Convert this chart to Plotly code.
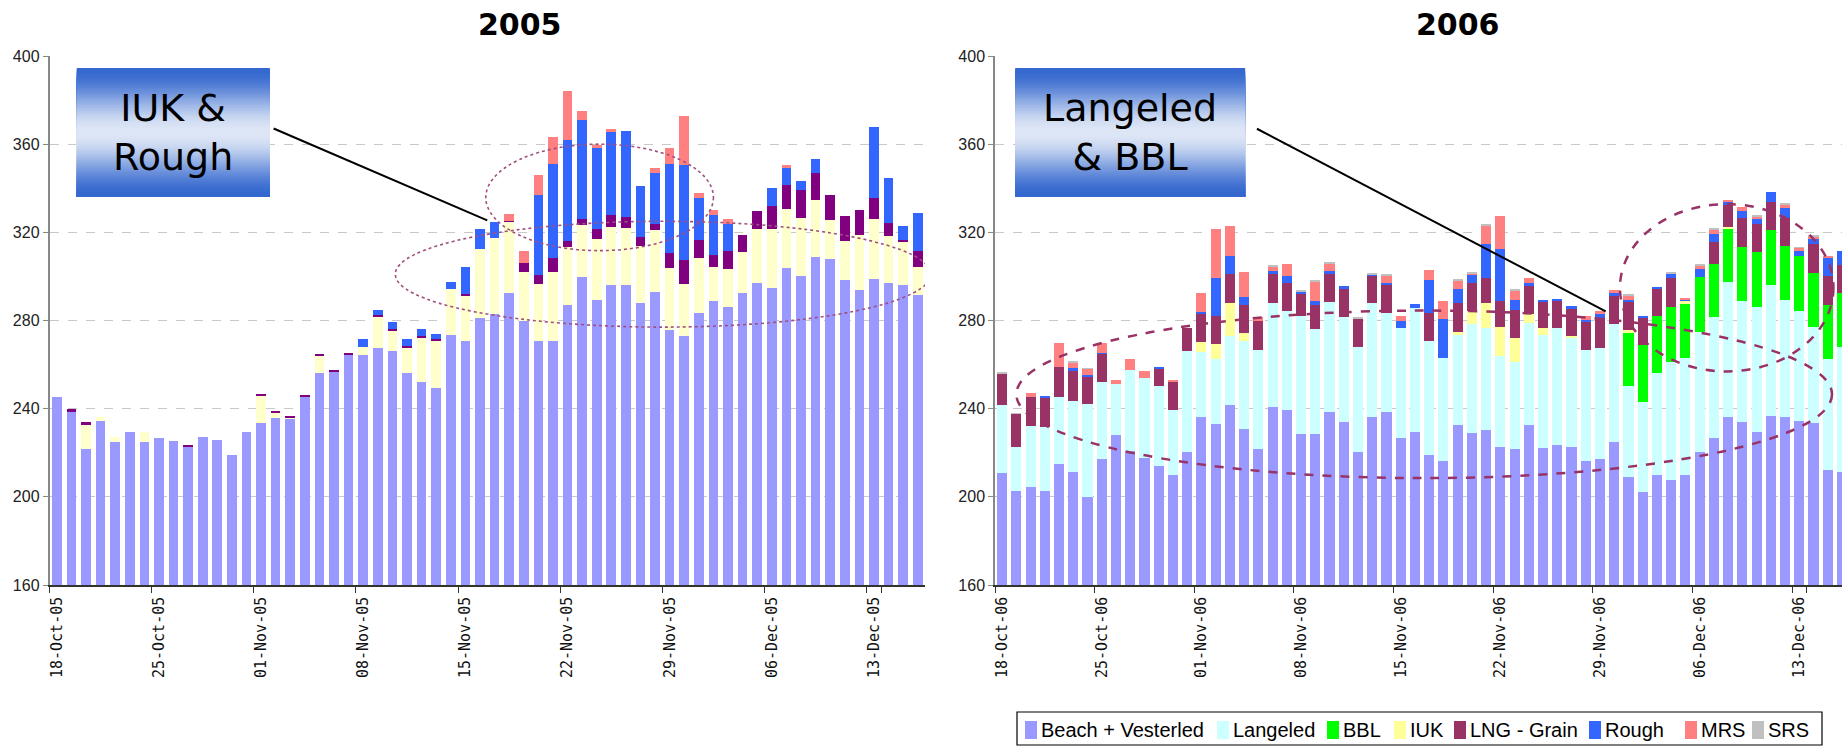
import plotly.graph_objects as go
import pandas as pd

# ---------------- categories ----------------
days05 = [d.strftime('%d-%b-%y') for d in pd.date_range('2005-10-18', periods=60, freq='D')]
days06 = [d.strftime('%d-%b-%y') for d in pd.date_range('2006-10-18', periods=60, freq='D')]

# ---------------- 2005 series (mcm/d) ----------------
beach05 = [245.5, 238.4, 221.5, 234.2, 225.1, 229.3, 225.1, 226.5, 225.4, 222.8,
           227.0, 225.6, 219.2, 229.6, 233.3, 235.6, 235.6, 245.5, 256.1, 256.9,
           264.2, 264.2, 267.4, 266.0, 256.1, 252.3, 249.2, 273.3, 270.5, 281.1,
           282.8, 292.4, 279.6, 270.5, 270.5, 286.9, 299.7, 289.2, 296.0, 296.0,
           287.9, 292.9, 275.5, 272.8, 283.3, 288.7, 286.1, 292.4, 297.0, 294.7,
           303.8, 300.0, 308.8, 307.8, 298.3, 293.7, 298.7, 297.0, 296.0, 291.4]
iuk05 = [0, 0, 11.4, 2.2, 1.9, 0, 4.5, 0, 0, 0,
         0, 0, 0, 0, 12.5, 2.8, 0.5, 0, 7.6, 0,
         0, 4.0, 14.3, 9.5, 11.3, 19.7, 21.8, 20.9, 20.9, 31.3,
         34.6, 32.3, 22.4, 26.0, 31.5, 26.4, 23.5, 27.7, 26.3, 25.9,
         25.8, 28.1, 28.3, 23.7, 25.0, 15.5, 17.2, 18.7, 24.5, 26.8,
         26.7, 26.5, 25.8, 17.7, 17.6, 25.0, 27.3, 21.3, 19.9, 12.8]
lng05 = [0, 1.3, 0.9, 0, 0, 0, 0, 0, 0, 0.5,
         0, 0, 0, 0, 0.5, 0.6, 0.5, 0.5, 1.0, 0.5,
         1.0, 0, 0.7, 0.5, 1.0, 1.0, 0.5, 0, 0.7, 0,
         0, 0.5, 4.0, 4.0, 6.3, 2.6, 2.8, 4.6, 5.5, 5.1,
         4.2, 2.7, 6.8, 10.8, 8.1, 5.4, 8.1, 7.6, 8.1, 10.3,
         10.9, 12.6, 12.3, 11.4, 11.4, 11.4, 9.6, 5.9, 0.5, 7.2]
rough05 = [0, 0, 0, 0, 0, 0, 0, 0, 0, 0,
           0, 0, 0, 0, 0, 0, 0, 0, 0, 0,
           0, 3.3, 2.2, 3.3, 3.1, 3.0, 2.3, 3.2, 12.2, 9.1,
           7.3, 0, 0, 36.4, 42.7, 46.0, 44.9, 36.6, 37.8, 38.9,
           23.0, 23.2, 40.4, 43.2, 19.2, 18.2, 12.3, 0, 0, 8.3,
           7.8, 4.1, 6.4, 0, 0, 0, 32.3, 20.5, 6.3, 17.4]
mrs05 = [0, 0, 0, 0, 0, 0, 0, 0, 0, 0,
         0, 0, 0, 0, 0, 0, 0, 0, 0, 0,
         0, 0, 0, 0, 0, 0, 0, 0, 0, 0,
         0, 3.1, 5.4, 9.1, 12.3, 22.2, 4.1, 1.7, 1.3, 0,
         0, 2.3, 7.3, 22.2, 2.2, 2.3, 2.3, 0, 0, 0,
         1.3, 0, 0, 0, 0, 0, 0, 0, 0, 0]

# ---------------- 2006 series (mcm/d) ----------------
beach06 = [210.6, 202.8, 204.6, 202.8, 214.7, 211.1, 199.8, 217.0, 227.9, 221.0,
           217.5, 214.2, 209.7, 220.5, 236.4, 232.9, 241.5, 230.6, 221.5, 240.6,
           239.2, 228.3, 228.3, 238.7, 233.8, 220.2, 236.4, 238.7, 226.5, 229.6,
           219.2, 216.4, 232.4, 228.8, 230.1, 222.8, 221.5, 232.4, 222.0, 223.3,
           222.5, 216.4, 217.0, 225.1, 208.9, 202.4, 209.7, 207.5, 209.7, 220.2,
           226.5, 236.4, 233.8, 229.6, 236.9, 236.1, 234.2, 233.3, 212.4, 211.1]
langeled06 = [30.9, 20.0, 27.7, 29.1, 30.8, 32.6, 42.1, 35.0, 23.1, 36.4,
              36.3, 35.9, 29.5, 45.5, 29.2, 29.7, 31.4, 39.9, 45.0, 47.3,
              44.9, 53.6, 47.7, 49.7, 47.7, 47.7, 51.5, 44.6, 50.0, 56.0,
              51.3, 46.6, 40.9, 49.5, 46.4, 41.1, 39.6, 46.4, 51.3, 53.2,
              49.5, 50.1, 50.4, 53.2, 41.2, 40.8, 46.4, 53.6, 53.2, 54.5,
              55.0, 61.0, 54.9, 56.5, 59.1, 53.1, 49.9, 43.7, 50.0, 56.8]
bbl06 = [0] * 44 + [24.6, 25.5, 25.8, 25.0, 25.0, 25.0,
                    24.1, 24.5, 24.6, 25.0, 25.0, 24.5, 25.0, 24.5, 24.5, 24.5]
iuk06 = [0, 0, 0, 0, 0, 0, 0, 0, 0, 0,
         0, 0, 0, 0, 4.6, 6.6, 15.0, 3.8, 0, 0,
         0, 0, 0, 0, 0, 0, 0, 0, 0, 0,
         0, 0, 1.4, 5.8, 11.4, 13.1, 10.9, 4.0, 3.2, 0,
         1.0, 0, 0, 0, 0.8, 0, 0, 0, 0.8, 0,
         0, 0.5, 0, 0, 0, 0, 0, 0, 0, 0]
lng06 = [14.6, 14.8, 13.2, 13.0, 13.3, 13.3, 12.8, 12.8, 0, 0,
         0, 8.2, 13.3, 10.5, 13.0, 12.7, 13.1, 12.6, 13.1, 13.3,
         12.9, 10.1, 10.9, 13.1, 13.2, 13.2, 12.6, 12.7, 0, 0,
         12.8, 0, 13.2, 12.9, 11.3, 11.7, 12.6, 12.9, 12.2, 12.2,
         12.6, 13.1, 13.7, 12.7, 13.2, 12.8, 12.8, 13.1, 0, 0,
         10.0, 9.9, 13.2, 12.6, 12.8, 12.8, 0, 13.1, 13.1, 12.7]
rough06 = [0, 0, 0, 0.8, 0, 1.3, 0.5, 0.5, 0, 0,
           0, 0.5, 0, 0, 0.5, 17.3, 8.3, 3.7, 0, 1.3,
           3.2, 1.3, 1.8, 0.8, 0.8, 0, 0.5, 1.0, 3.1, 2.1,
           15.0, 17.6, 6.3, 4.0, 15.4, 23.7, 4.6, 1.3, 0.5, 1.0,
           0.8, 0.5, 1.7, 1.4, 0.5, 0.4, 0.5, 2.3, 1.0, 3.6,
           3.6, 1.5, 3.1, 2.8, 4.5, 4.5, 2.3, 2.8, 8.3, 6.3]
mrs06 = [0, 0, 1.8, 0, 10.9, 2.8, 2.8, 4.4, 1.8, 5.0,
         3.2, 0, 0.5, 0, 8.7, 22.3, 13.5, 11.4, 2.1, 2.1,
         5.4, 0, 9.1, 3.7, 0, 0, 0, 3.2, 2.3, 0,
         4.5, 8.1, 4.1, 0.5, 8.6, 14.9, 4.5, 2.2, 0, 0,
         0, 1.8, 1.3, 1.3, 2.2, 0, 0, 0, 0.5, 1.8,
         2.3, 0.5, 1.9, 0.8, 0, 1.8, 1.5, 0.8, 1.0, 0]
srs06 = [0.5, 0.4, 0, 0, 0, 0.5, 0.4, 0, 0, 0,
         0, 0, 0, 0, 0, 0, 0, 0, 0, 0.5,
         0, 0.4, 0.3, 0.5, 0, 0.4, 0.5, 0.5, 0, 0,
         0, 0, 0.5, 0.5, 0.5, 0, 0.5, 0, 0, 0,
         0, 0, 0, 0, 0.5, 0, 0, 0.5, 0, 0.5,
         0.5, 0, 0, 0.3, 0, 0.5, 0.4, 0.4, 0, 0]

series_names = ['Beach + Vesterled', 'Langeled', 'BBL', 'IUK', 'LNG - Grain', 'Rough', 'MRS', 'SRS']
colors06 = ['#9999FF', '#CCFFFF', '#00FF00', '#FFFF99', '#993366', '#3366FF', '#FF8080', '#C0C0C0']
colors05 = {'Beach + Vesterled': '#9999FF', 'IUK': '#FFFFCC', 'LNG - Grain': '#800080',
            'Rough': '#3366FF', 'MRS': '#FF8080'}

tick05 = days05[::7]
tick06 = days06[::7]

W, H = 1842, 746
def px(x):
    return x / W
def py(y):
    return 1 - y / H

fig = go.Figure()

data05 = [('Beach + Vesterled', beach05), ('IUK', iuk05), ('LNG - Grain', lng05),
          ('Rough', rough05), ('MRS', mrs05)]
for name, vals in data05:
    fig.add_trace(go.Bar(x=days05, y=vals, name=name, marker_color=colors05[name],
                         marker_line_width=0, width=0.66, xaxis='x', yaxis='y',
                         showlegend=False))

data06 = [beach06, langeled06, bbl06, iuk06, lng06, rough06, mrs06, srs06]
for name, vals, col in zip(series_names, data06, colors06):
    fig.add_trace(go.Bar(x=days06, y=vals, name=name, marker_color=col,
                         marker_line_width=0, width=0.71, xaxis='x2', yaxis='y2',
                         showlegend=False))

ydom = [py(585), py(56)]
xfont = dict(family='DejaVu Sans Mono', size=15, color='#111')
yfont = dict(family='Liberation Sans, Arial', size=16, color='#222')
common_x = dict(type='category', tickmode='array', tickangle=-90, tickfont=xfont,
                ticks='outside', tickson='boundaries', ticklen=6, tickcolor='#333',
                showline=True, linecolor='#333', linewidth=1.5, showgrid=False,
                zeroline=False, ticklabelstandoff=4, automargin=False)
common_y = dict(range=[160, 400], tickmode='array', tickvals=[160, 200, 240, 280, 320, 360, 400],
                tickfont=yfont, ticks='outside', ticklen=5, tickcolor='#888',
                showline=True, linecolor='#888', linewidth=1.5,
                showgrid=True, gridcolor='#C8C8C8', griddash='dash', gridwidth=1,
                zeroline=False, domain=ydom, automargin=False)

fig.update_layout(
    width=W, height=H, margin=dict(l=0, r=0, t=0, b=0, pad=0, autoexpand=False),
    plot_bgcolor='white', paper_bgcolor='white', barmode='stack', showlegend=False,
    xaxis=dict(common_x, domain=[px(49.5), px(925)], range=[-0.5, 59.5],
               tickvals=tick05, ticktext=tick05, anchor='y'),
    yaxis=dict(common_y, anchor='x'),
    xaxis2=dict(common_x, domain=[px(995), 1.0], range=[-0.5, 59.0],
                tickvals=tick06, ticktext=tick06, anchor='y2'),
    yaxis2=dict(common_y, anchor='x2'),
)

shapes = []
annotations = []

# Titles
for txt, cx in (('<b>2005</b>', 520), ('<b>2006</b>', 1458)):
    annotations.append(dict(text=txt, x=px(cx), y=py(24), xref='paper', yref='paper',
                            xanchor='center', yanchor='middle', showarrow=False,
                            font=dict(family='DejaVu Sans', size=30, color='#000')))

# gradient call-out boxes (overlapping bands, each reaching the bottom: no seams)
def grad_box(xr, yr, x0, x1, y0, y1, n=90):
    dark = (52, 104, 206)
    light = (222, 230, 246)
    out = []
    for k in range(n):
        t = (k + 0.5) / n
        d = abs(t - 0.5) * 2
        d = d * d * (3 - 2 * d)
        c = tuple(int(round(light[j] + (dark[j] - light[j]) * d)) for j in range(3))
        ya = y1 - (y1 - y0) * k / n
        out.append(dict(type='rect', xref=xr, yref=yr, x0=x0, x1=x1, y0=y0, y1=ya,
                        fillcolor='rgb(%d,%d,%d)' % c, line=dict(width=0), layer='above'))
    return out

shapes += grad_box('x', 'y', 1.37, 14.6, 336.2, 394.6)
shapes += grad_box('x2', 'y2', 0.92, 17.07, 336.2, 394.6)
annotations.append(dict(text='IUK &amp;<br>Rough', x=7.98, y=365.4, xref='x', yref='y',
                        xanchor='center', yanchor='middle',
                        showarrow=False, font=dict(family='DejaVu Sans', size=38, color='#000')))
annotations.append(dict(text='Langeled<br>&amp; BBL', x=9.0, y=365.4, xref='x2', yref='y2',
                        xanchor='center', yanchor='middle',
                        showarrow=False, font=dict(family='DejaVu Sans', size=38, color='#000')))

# call-out lines
shapes.append(dict(type='line', xref='x', yref='y', x0=14.86, y0=367.1, x1=29.5, y1=325.4,
                   line=dict(color='#000', width=2), layer='above'))
shapes.append(dict(type='line', xref='x2', yref='y2', x0=17.9, y0=367.0, x1=42.4, y1=284.1,
                   line=dict(color='#000', width=2), layer='above'))

# ellipses
shapes.append(dict(type='circle', xref='x', yref='y', x0=29.4, x1=45.0, y0=311.7, y1=360.0,
                   line=dict(color='#A0507E', width=1.6, dash='dot'), layer='above'))
shapes.append(dict(type='circle', xref='x', yref='y', x0=23.2, x1=59.9, y0=277.0, y1=325.0,
                   line=dict(color='#A0507E', width=1.6, dash='dot'), layer='above'))
shapes.append(dict(type='circle', xref='x2', yref='y2', x0=1.0, x1=58.3, y0=208.5, y1=284.5,
                   line=dict(color='#993366', width=2.5, dash='dash'), layer='above'))
shapes.append(dict(type='circle', xref='x2', yref='y2', x0=43.4, x1=58.4, y0=256.9, y1=332.8,
                   line=dict(color='#993366', width=2.5, dash='dash'), layer='above'))

# legend (drawn box)
shapes.append(dict(type='rect', xref='paper', yref='paper', x0=px(1017), x1=px(1822),
                   y0=py(745), y1=py(712), line=dict(color='#000', width=1.2),
                   fillcolor='white', layer='above'))
leg_sw = [1025, 1217, 1327, 1394, 1454, 1589, 1685, 1752]
leg_tx = [1039, 1231, 1341, 1408, 1468, 1603, 1699, 1766]
for name, col, sx, tx in zip(series_names, colors06, leg_sw, leg_tx):
    shapes.append(dict(type='rect', xref='paper', yref='paper', x0=px(sx), x1=px(sx + 12),
                       y0=py(739), y1=py(721), fillcolor=col, line=dict(width=0), layer='above'))
    annotations.append(dict(text=name, x=px(tx), y=py(730), xref='paper', yref='paper',
                            xanchor='left', yanchor='middle', showarrow=False,
                            font=dict(family='Liberation Sans, Arial', size=20, color='#000')))

fig.update_layout(shapes=shapes, annotations=annotations)

fig.write_html('out.html', config={'displayModeBar': False},
               post_script="document.body.style.margin='0';document.body.style.overflow='hidden';")
